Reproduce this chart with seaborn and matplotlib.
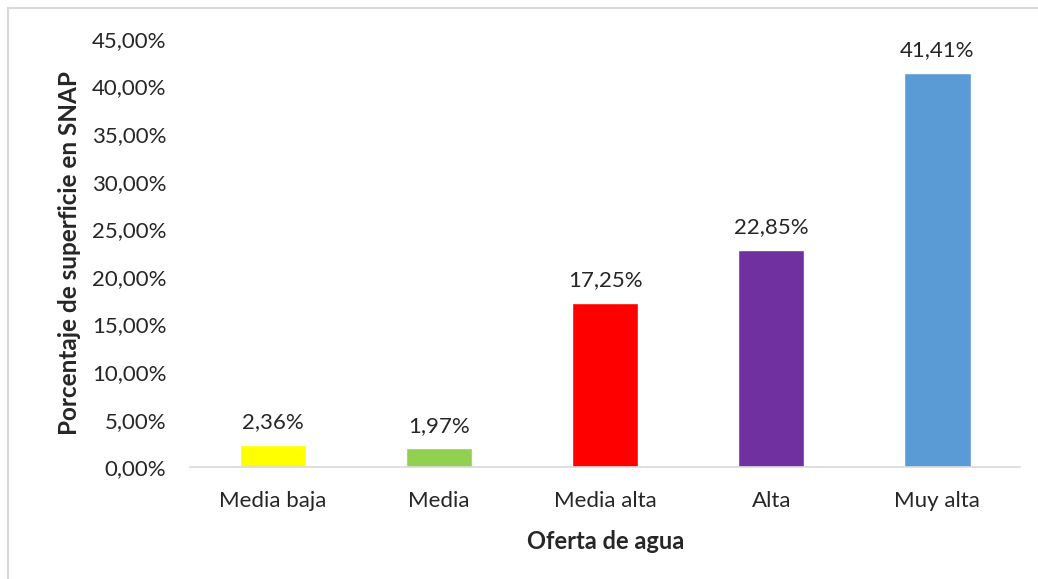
#!/usr/bin/env python3
"""Bar chart: porcentaje de superficie en SNAP por oferta de agua."""

import matplotlib
matplotlib.use("Agg")
import matplotlib.pyplot as plt
import pandas as pd
import seaborn as sns
from matplotlib.lines import Line2D
from matplotlib.ticker import FuncFormatter, MultipleLocator

categories = ["Media baja", "Media", "Media alta", "Alta", "Muy alta"]
values = [2.36, 1.97, 17.25, 22.85, 41.41]
bar_colors = ["#FFFF00", "#92D050", "#FF0000", "#7030A0", "#5B9BD5"]


def pct(value: float) -> str:
    return f"{value:.2f}".replace(".", ",") + "%"


def main() -> None:
    sns.set_theme(style="white")
    plt.rcParams["font.family"] = ["Lato", "DejaVu Sans"]

    frame = pd.DataFrame({"oferta": categories, "pct": values})

    fig = plt.figure(figsize=(10.38, 5.79), dpi=100)
    ax = fig.add_axes([0.183, 0.193, 0.8, 0.74])

    sns.barplot(
        data=frame,
        x="oferta",
        y="pct",
        hue="oferta",
        palette=bar_colors,
        width=0.4,
        legend=False,
        ax=ax,
        saturation=1,
    )

    for container in ax.containers:
        ax.bar_label(container, labels=[pct(v) for v in container.datavalues],
                     padding=9, fontsize=16, color="#262626")

    ax.set_ylim(0, 45)
    ax.yaxis.set_major_locator(MultipleLocator(5))
    ax.yaxis.set_major_formatter(FuncFormatter(lambda v, _: pct(v)))
    ax.tick_params(axis="y", labelsize=16, labelcolor="#262626", length=0, pad=17)
    ax.tick_params(axis="x", labelsize=16, labelcolor="#262626", length=0, pad=17)

    ax.set_xlabel("Oferta de agua", fontsize=17, fontweight="bold", labelpad=14)
    ax.set_ylabel("Porcentaje de superficie en SNAP", fontsize=17.5, fontweight="bold", labelpad=8)

    for side in ["top", "right", "left"]:
        ax.spines[side].set_visible(False)
    ax.spines["bottom"].set_color("#D9D9D9")
    ax.spines["bottom"].set_linewidth(1.2)

    # light frame at top and left of the figure
    fig.add_artist(Line2D([8 / 1038, 1], [1 - 8 / 579, 1 - 8 / 579], color="#D9D9D9", linewidth=1.5))
    fig.add_artist(Line2D([8 / 1038, 8 / 1038], [0, 1 - 8 / 579], color="#D9D9D9", linewidth=1.5))

    fig.savefig("out.png", dpi=100)


if __name__ == "__main__":
    main()
